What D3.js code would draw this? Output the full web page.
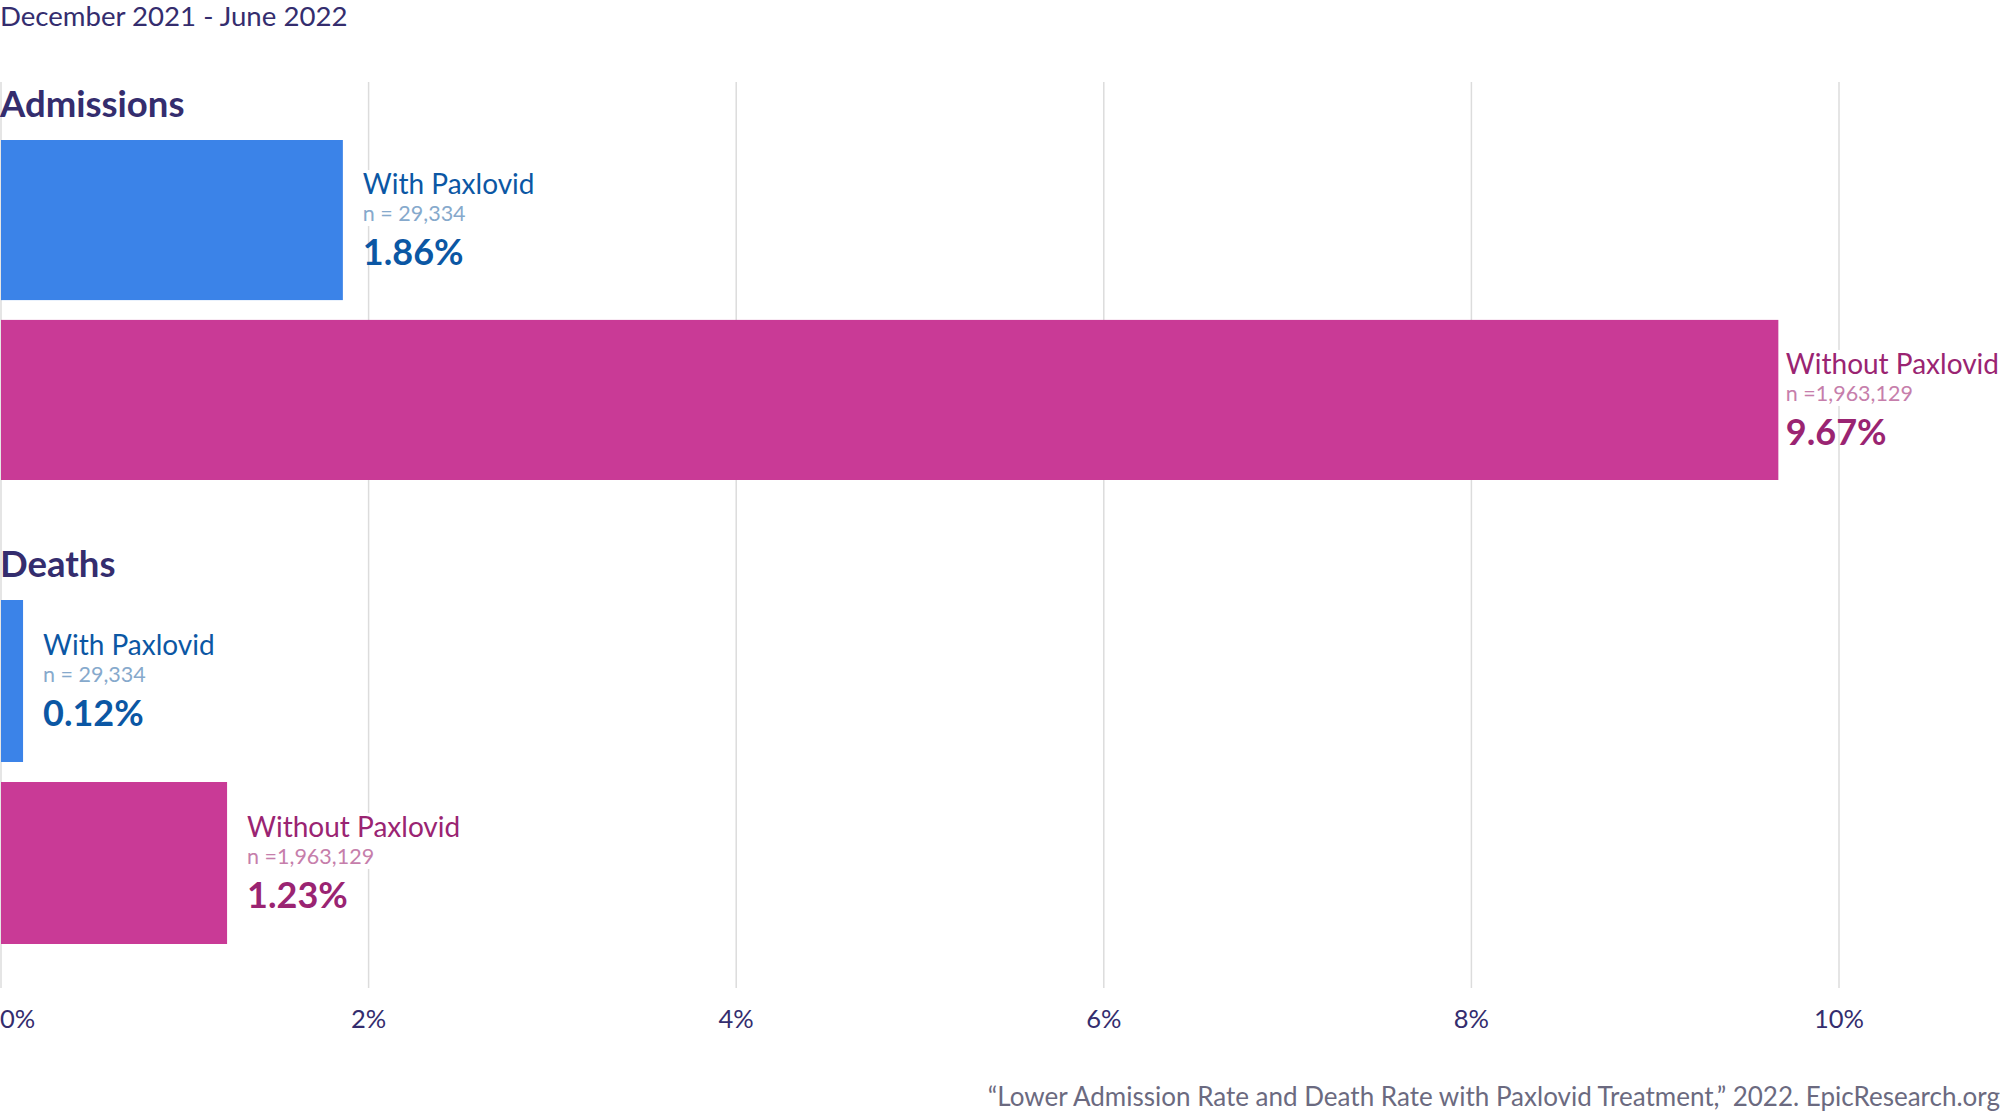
<!DOCTYPE html>
<html>
<head>
<meta charset="utf-8">
<script src="https://cdn.jsdelivr.net/npm/d3@7"></script>
<style>
  body { margin: 0; background: #fff; }
  svg { font-family: Lato, "Noto Sans", sans-serif; }
</style>
</head>
<body>
<svg id="chart"></svg>
<script>
// data
var groups = ["Admissions", "Deaths"];
var cohorts = ["With Paxlovid", "Without Paxlovid"];
var cohortN = ["n = 29,334", "n =1,963,129"];
var admissionRates = [1.86, 9.67];
var deathRates = [0.12, 1.23];
var tickValues = [0, 2, 4, 6, 8, 10];
var subtitle = "December 2021 - June 2022";
var source = "\u201CLower Admission Rate and Death Rate with Paxlovid Treatment,\u201D 2022. EpicResearch.org";

var dimensions = {
  width: 2000,
  height: 1114,
  margin: { top: 82, bottom: 126, left: 1, right: 161 }
}

var barColor = ["#3b83e8", "#c93a96"];
var nameColor = ["#0b57a4", "#9a2472"];
var nColor = ["#86a9cc", "#c67eab"];
var inkColor = "#342d6e";

var svg = d3.select("#chart")
  .attr("width", dimensions.width)
  .attr("height", dimensions.height)

var x = d3.scaleLinear()
  .domain([0, 10])
  .range([dimensions.margin.left, dimensions.width - dimensions.margin.right])

// grid lines
svg.append("g")
  .selectAll("line")
  .data(tickValues)
  .enter().append("line")
    .attr("x1", function(d) { return x(d); })
    .attr("x2", function(d) { return x(d); })
    .attr("y1", dimensions.margin.top)
    .attr("y2", dimensions.height - dimensions.margin.bottom)
    .attr("stroke", "#dcdcdc")
    .attr("stroke-width", 1.5)

// tick labels
svg.append("g")
  .selectAll("text")
  .data(tickValues)
  .enter().append("text")
    .text(function(d) { return d + "%"; })
    .attr("x", function(d) { return d == 0 ? 0 : x(d); })
    .attr("y", 1028)
    .attr("text-anchor", function(d) { return d == 0 ? "start" : "middle"; })
    .attr("fill", inkColor)
    .style("font-size", "25.5px")

svg.append("text")
  .text(subtitle)
  .attr("x", 0)
  .attr("y", 26)
  .attr("fill", inkColor)
  .style("font-size", "27.6px")

svg.append("text")
  .text(source)
  .attr("x", dimensions.width)
  .attr("y", 1106)
  .attr("text-anchor", "end")
  .attr("fill", "#6b6a80")
  .style("font-size", "26px")

var groupData = [admissionRates, deathRates];
var groupTop = [140, 600];
var groupBottom = [480, 944];

groups.forEach(function(g, gi) {
  var y = d3.scaleBand()
    .domain(cohorts)
    .range([groupTop[gi], groupBottom[gi]])
    .paddingInner(0.11)

  svg.append("text")
    .text(g)
    .attr("x", 0)
    .attr("y", groupTop[gi] - 23)
    .attr("fill", inkColor)
    .style("font-size", "36.5px")
    .style("font-weight", "bold")

  var rows = cohorts.map(function(c, i) {
    return { cohort: c, n: cohortN[i], value: groupData[gi][i], i: i };
  });

  var bar = svg.append("g")
    .selectAll("g")
    .data(rows)
    .enter().append("g")

  bar.append("rect")
    .attr("x", x(0))
    .attr("y", function(d) { return y(d.cohort); })
    .attr("width", function(d) { return x(d.value) - x(0); })
    .attr("height", y.bandwidth())
    .attr("fill", function(d) { return barColor[d.i]; })

  var label = bar.append("g")

  // white backing so the grid line stops behind the name
  var bg = label.append("rect")
    .attr("fill", "#fff")

  var name = label.append("text")
    .text(function(d) { return d.cohort; })
    .attr("y", -26)
    .attr("fill", function(d) { return nameColor[d.i]; })
    .style("font-size", "28px")

  label.append("text")
    .text(function(d) { return d.n; })
    .attr("y", 1)
    .attr("fill", function(d) { return nColor[d.i]; })
    .style("font-size", "21.5px")

  label.append("text")
    .text(function(d) { return d.value.toFixed(2) + "%"; })
    .attr("y", 45)
    .attr("fill", function(d) { return nameColor[d.i]; })
    .style("font-size", "36px")
    .style("font-weight", "bold")

  // place label right of the bar, keep it inside the page
  name.each(function(d) {
    var w = this.getComputedTextLength();
    var lx = Math.min(x(d.value) + 20, dimensions.width - w - 1);
    var ly = y(d.cohort) + y.bandwidth() / 2;
    d3.select(this.parentNode)
      .attr("transform", "translate(" + lx + "," + ly + ")")
      .select("rect")
        .attr("x", -2)
        .attr("y", -50)
        .attr("width", w + 4)
        .attr("height", 56)
  })
})
</script>
</body>
</html>
